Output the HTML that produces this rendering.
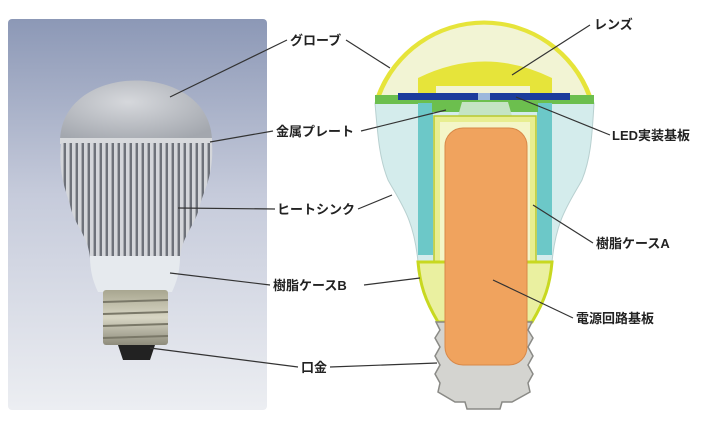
<!DOCTYPE html>
<html><head><meta charset="utf-8"><style>
html,body{margin:0;padding:0;background:#fff;}
svg{display:block}
text{font-family:"Liberation Sans","Noto Sans CJK JP",sans-serif;font-size:13px;fill:#222;font-weight:bold}
</style></head><body>
<svg width="726" height="425" viewBox="0 0 726 425" xmlns="http://www.w3.org/2000/svg">
<defs>
<linearGradient id="bg" x1="0" y1="0" x2="0" y2="1">
<stop offset="0" stop-color="#8c98b6"/><stop offset="0.45" stop-color="#c6cbdb"/><stop offset="1" stop-color="#eceef2"/></linearGradient>
<radialGradient id="dome" cx="0.45" cy="0.35" r="0.7">
<stop offset="0" stop-color="#d6d8dc"/><stop offset="1" stop-color="#a3a7ae"/></radialGradient>
<pattern id="fins" width="6" height="10" patternUnits="userSpaceOnUse">
<rect width="6" height="10" fill="#6e727a"/><rect x="0" width="3" height="10" fill="#d4d6da"/><rect x="3" width="1" height="10" fill="#a8abb0"/></pattern>
<linearGradient id="screw" x1="0" y1="0" x2="0" y2="1">
<stop offset="0" stop-color="#a8a690"/><stop offset="0.5" stop-color="#d8d6c4"/><stop offset="1" stop-color="#8e8c7c"/></linearGradient>
<clipPath id="finclip"><path d="M61,143 L212,143 C214,175 204,190 200,205 C196,225 182,235 180,258 L90,258 C88,235 74,225 70,205 C66,190 58,175 61,143Z"/></clipPath>
</defs>
<rect x="8" y="19" width="259" height="391" rx="4" fill="url(#bg)"/>
<path d="M60,142 C60,60 212,60 212,142Z" fill="url(#dome)"/>
<rect x="60" y="138" width="152" height="6" fill="#d8dadd"/>
<g clip-path="url(#finclip)"><rect x="55" y="143" width="165" height="120" fill="url(#fins)"/></g>
<path d="M90,256 L180,256 C180,275 175,285 172,292 L98,292 C95,285 90,275 90,256Z" fill="#e6eaee"/>
<rect x="103" y="290" width="65" height="55" rx="3" fill="url(#screw)"/>
<g stroke="#7a7868" stroke-width="2"><line x1="103" y1="302" x2="168" y2="300"/><line x1="103" y1="314" x2="168" y2="312"/><line x1="103" y1="326" x2="168" y2="324"/><line x1="103" y1="338" x2="168" y2="336"/></g>
<path d="M118,345 L155,345 L150,360 L123,360Z" fill="#222"/>
<!-- cutaway -->
<path d="M376,96 A115,115 0 0 1 592,96Z" fill="#e6e43a"/>
<path d="M381,96 A110,110 0 0 1 587,96Z" fill="#f2f4d4"/>
<path d="M418,96 L418,78 Q485,45 552,78 L552,96Z" fill="#e6e43a"/>
<rect x="436" y="86" width="94" height="10" fill="#f2f4d4"/>
<path d="M375,103 L594,103 C592,140 590,160 582,180 C568,205 556,220 552,262 L418,262 C414,220 402,205 388,180 C380,160 378,140 375,103Z" fill="#d4ecec" stroke="#b8d0d0" stroke-width="1"/>
<rect x="375" y="95" width="219" height="9" fill="#6cbf4e"/>
<rect x="398" y="93" width="80" height="7" fill="#1c3c9c"/>
<rect x="490" y="93" width="80" height="7" fill="#1c3c9c"/>
<rect x="478" y="93" width="12" height="7" fill="#9cb8dc"/>
<rect x="418" y="103" width="15" height="152" fill="#6cc8c8"/>
<rect x="537" y="103" width="15" height="152" fill="#6cc8c8"/>
<path d="M432,100 L462,100 L470,112 L432,112Z" fill="#6cbf4e"/>
<path d="M538,100 L508,100 L500,112 L538,112Z" fill="#6cbf4e"/>
<path d="M462,102 L508,102 L512,116 L458,116Z" fill="#c4e4c4"/>
<rect x="434" y="116" width="102" height="146" fill="#e8ee90" stroke="#b8c830" stroke-width="1.5"/>
<rect x="440" y="122" width="90" height="140" fill="#f4f6c8"/>
<path d="M418,262 L552,262 C550,285 545,300 532,322 L438,322 C425,300 420,285 418,262Z" fill="#eaf0a0" stroke="#c8d820" stroke-width="3"/>
<path d="M436,322 L532,322 L528,330 L533,338 L528,347 L533,356 L528,365 L533,374 L528,383 L530,392 L512,402 L502,402 L500,409 L467,409 L465,402 L455,402 L438,392 L440,383 L435,374 L440,365 L435,356 L440,347 L435,338 L440,330Z" fill="#d4d4d0" stroke="#8a8a86" stroke-width="1.5"/>
<rect x="445" y="128" width="82" height="237" rx="18" fill="#f0a35e" stroke="#d88848" stroke-width="1"/>
<g stroke="#333" stroke-width="1.2" fill="none">
<line x1="170" y1="97" x2="287" y2="40"/><line x1="346" y1="40" x2="390" y2="68"/>
<line x1="210" y1="142" x2="273" y2="131"/><line x1="361" y1="131" x2="446" y2="110"/>
<line x1="178" y1="208" x2="275" y2="209"/><line x1="358" y1="209" x2="392" y2="195"/>
<line x1="170" y1="273" x2="270" y2="285"/><line x1="364" y1="285" x2="420" y2="278"/>
<line x1="150" y1="348" x2="298" y2="367"/><line x1="330" y1="367" x2="437" y2="363"/>
<line x1="590" y1="25" x2="512" y2="75"/>
<line x1="516" y1="97" x2="610" y2="135"/>
<line x1="533" y1="205" x2="593" y2="243"/>
<line x1="493" y1="280" x2="573" y2="318"/>
</g>
<text x="290" y="45">グローブ</text>
<text x="276" y="136">金属プレート</text>
<text x="277" y="214">ヒートシンク</text>
<text x="273" y="290">樹脂ケースB</text>
<text x="301" y="372">口金</text>
<text x="594" y="29">レンズ</text>
<text x="612" y="140">LED実装基板</text>
<text x="596" y="248">樹脂ケースA</text>
<text x="576" y="323">電源回路基板</text>
</svg>
</body></html>
